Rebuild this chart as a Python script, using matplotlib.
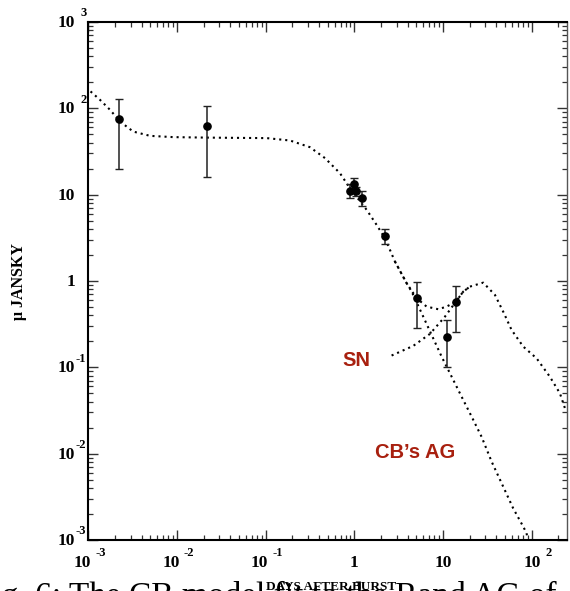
import numpy as np
import matplotlib
matplotlib.use('Agg')
import matplotlib.pyplot as plt
from matplotlib.transforms import offset_copy
from matplotlib.ticker import LogLocator, NullFormatter

# data points (days, micro Jansky) with lower / upper error ends
t_obs = [0.00222, 0.0220, 0.891, 1.00, 1.04, 1.23, 2.23, 5.04, 10.98, 13.97]
f_obs = [75, 62.7, 11.07, 13.3, 10.9, 9.1, 3.33, 0.632, 0.227, 0.577]
f_lo = [19.7, 16.2, 9.1, 11.4, 9.7, 7.48, 2.67, 0.284, 0.102, 0.259]
f_hi = [129, 107, 13.3, 15.5, 12.2, 10.9, 3.98, 0.984, 0.354, 0.885]

# total fit (CB afterglow + SN)
t_tot = [0.00106, 0.00136, 0.00176, 0.00228, 0.00321, 0.00497, 0.00908, 0.0216,
         0.1026, 0.188, 0.315, 0.467, 0.689, 0.891, 1.377, 1.783, 2.213, 2.87,
         3.89, 5.04, 6.53, 8.83, 10.98, 13.97, 16.9, 20.1, 28.4, 38.5, 48.6,
         59.3, 80.2, 113.6, 160, 208, 237]
f_tot = [157, 125, 96, 70.3, 53.8, 48.0, 46.4, 45.8,
         45.2, 42.4, 35.5, 26.5, 17.7, 11.9, 6.67, 4.47, 3.13, 1.68,
         0.942, 0.632, 0.505, 0.471, 0.505, 0.577, 0.753, 0.861, 0.957, 0.690, 0.424,
         0.271, 0.174, 0.127, 0.078, 0.050, 0.0336]

# CB's afterglow alone (after it leaves the total curve)
t_ag = [2.87, 3.89, 4.43, 5.74, 9.64, 12.5, 16.2, 21.0, 27.2, 35.3, 47.7, 61.8, 80.2, 87.5, 90]
f_ag = [1.68, 0.942, 0.753, 0.424, 0.133, 0.078, 0.0457, 0.0269, 0.0157, 0.0081,
        0.00415, 0.00233, 0.00143, 0.0012, 0.001]

# supernova alone
t_sn = [2.63, 4.61, 7.12, 10.5, 13.97, 16.9, 20.1]
f_sn = [0.137, 0.177, 0.244, 0.386, 0.577, 0.753, 0.861]

x_ticks = [1e-3, 1e-2, 1e-1, 1, 10, 100]
x_base = ['10', '10', '10', '1', '10', '10']
x_exp = ['-3', '-2', '-1', '', '', '2']
y_ticks = [1e-3, 1e-2, 1e-1, 1, 10, 100, 1000]
y_base = ['10', '10', '10', '1', '10', '10', '10']
y_exp = ['-3', '-2', '-1', '', '', '2', '3']

serif = 'Liberation Serif'
sans = 'Liberation Sans'
red = '#a8200f'

fig = plt.figure(figsize=(5.7, 5.91), dpi=100)
ax = fig.add_axes([88.3 / 570, 51 / 591, 478.7 / 570, 518 / 591])
ax.set_xscale('log')
ax.set_yscale('log')
ax.set_xlim(1e-3, 250)
ax.set_ylim(1e-3, 1e3)

dots = dict(color='black', lw=1.5, linestyle=(0, (1.0, 1.9)), dash_capstyle='butt')
ax.plot(t_tot, f_tot, **dots)
ax.plot(t_ag, f_ag, **dots)
ax.plot(t_sn, f_sn, **dots)

yerr = [np.array(f_obs) - np.array(f_lo), np.array(f_hi) - np.array(f_obs)]
ax.errorbar(t_obs, f_obs, yerr=yerr, fmt='o', color='black', ms=5.2,
            elinewidth=1.1, ecolor='#222222', capsize=3, capthick=1.0, zorder=5)

# ticks
for a in (ax.xaxis, ax.yaxis):
    a.set_major_locator(LogLocator(base=10, numticks=20))
    a.set_minor_locator(LogLocator(base=10, subs=np.arange(2, 10), numticks=20))
    a.set_major_formatter(NullFormatter())
    a.set_minor_formatter(NullFormatter())
ax.tick_params(which='both', direction='in', top=True, right=True, color='#333333')
ax.tick_params(which='major', length=7.2, width=1.0)
ax.tick_params(which='minor', length=3.6, width=0.9)
for s in ('left', 'bottom', 'top'):
    ax.spines[s].set_linewidth(1.5)
ax.spines['right'].set_linewidth(1.0)
ax.spines['right'].set_color('#555555')

# tick labels, drawn by hand as "10" plus a raised exponent
xt = ax.get_xaxis_transform()
for v, b, e in zip(x_ticks, x_base, x_exp):
    if e == '':
        ax.text(v, 0, b, transform=offset_copy(xt, fig=fig, x=0, y=-23, units='dots'),
                ha='center', va='center', fontsize=12.5, fontweight='bold', family=serif)
    else:
        dx = 9 if not e.startswith('-') else 2.5
        ax.text(v, 0, b, transform=offset_copy(xt, fig=fig, x=dx, y=-23, units='dots'),
                ha='right', va='center', fontsize=12.5, fontweight='bold', family=serif)
        ax.text(v, 0, e, transform=offset_copy(xt, fig=fig, x=dx + 4.5, y=-13.5, units='dots'),
                ha='left', va='center', fontsize=9, fontweight='bold', family=serif)

yt = ax.get_yaxis_transform()
for v, b, e in zip(y_ticks, y_base, y_exp):
    ax.text(0, v, b, transform=offset_copy(yt, fig=fig, x=-13, y=-1, units='dots'),
            ha='right', va='center', fontsize=12.5, fontweight='bold', family=serif)
    if e:
        ax.text(0, v, e, transform=offset_copy(yt, fig=fig, x=-2, y=8.5, units='dots'),
                ha='right', va='center', fontsize=9, fontweight='bold', family=serif)

ax.text(0.561, 0.3456, 'SN', transform=ax.transAxes, ha='center', va='center',
        fontsize=14.5, fontweight='bold', family=sans, color=red)
ax.text(0.6835, 0.168, 'CB\u2019s AG', transform=ax.transAxes, ha='center', va='center',
        fontsize=14.5, fontweight='bold', family=sans, color=red)

fig.text(19 / 570, 310 / 591, '\u03bc JANSKY', rotation=90, ha='center', va='center',
         fontsize=11.5, fontweight='bold', family=serif)

# caption of the paper, cut by the crop
fig.text(-26 / 570, -14 / 591, 'Fig. 6: The CB model fit to the Rand AG of',
         ha='left', va='baseline', fontsize=24, family=serif)
fig.text(331 / 570, 1 / 591, 'DAYS AFTER BURST', ha='center', va='baseline',
         fontsize=9.5, fontweight='bold', family=serif)

fig.savefig('out.png', dpi=100)
